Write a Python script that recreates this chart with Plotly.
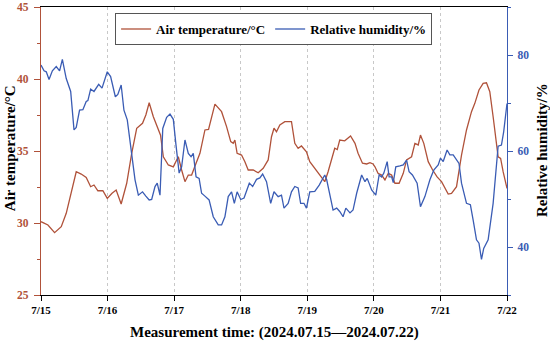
import plotly.graph_objects as go

# hours since 2024-07-15 00:00
temp_hours = [0, 2.5, 4.9, 7.3, 9.1, 10.9, 12.7, 14.5, 16.3, 17.9, 19.1, 20.5, 22.3, 23.9, 25.6, 27.1, 28.9,
              30.9, 32.7, 34.5, 36.6, 37.8, 39.0, 40.5, 42.3, 43.1, 44.1, 45.9, 47.7, 49.5, 50.7, 51.9, 53.1,
              54.3, 55.9, 57.3, 59.1, 60.4, 62.7, 65.1, 66.9, 68.4, 69.3, 69.9, 70.7, 72.3, 73.5, 74.7, 76.5,
              78.3, 80.1, 81.9, 83.1, 84.0, 84.9, 86.1, 87.9, 90.3, 91.5, 92.7, 93.9, 95.7, 96.9, 98.7, 100.5,
              102.3, 103.5, 104.8, 105.9, 106.8, 107.7, 109.5, 111.6, 113.2, 114.3, 115.9, 117.4, 118.6, 119.7,
              120.4, 121.5, 122.8, 124.0, 125.2, 126.4, 127.6, 129.1, 130.6, 131.8, 133.6, 134.8, 136.0, 136.8,
              138.0, 139.6, 141.2, 142.8, 144.4, 146.8, 148.0, 149.8, 151.6, 153.4, 155.2, 156.4, 157.9, 159.4,
              160.6, 161.8, 163.0, 164.2, 164.8, 165.7, 166.6, 168.0]
temp_values = [30.09, 29.86, 29.33, 29.74, 30.67, 32.06, 33.56, 33.4, 33.17, 32.52, 32.64, 32.24, 32.24, 31.71,
               32.06, 32.29, 31.32, 32.76, 34.84, 36.58, 36.92, 37.5, 38.35, 37.38, 36.58, 36.1, 34.6, 34.03,
               33.9, 34.6, 33.68, 32.87, 33.33, 33.33, 34.15, 34.84, 36.46, 36.5, 38.26, 37.73, 36.69, 35.65,
               35.53, 35.76, 34.84, 34.72, 34.26, 33.68, 33.68, 33.49, 33.8, 34.38, 35.99, 36.58, 36.34, 36.81,
               37.04, 37.04, 35.53, 35.19, 35.35, 34.95, 34.26, 33.8, 33.33, 32.87, 33.56, 34.49, 35.19, 35.1,
               35.76, 35.71, 36.04, 35.53, 34.84, 34.15, 34.1, 34.19, 34.1, 33.9, 33.45, 33.33, 32.99, 33.45,
               33.33, 32.76, 32.76, 33.45, 34.38, 34.6, 35.53, 35.42, 36.11, 35.53, 34.26, 33.68, 33.2, 32.87,
               32.01, 32.06, 32.52, 34.72, 36.46, 37.73, 38.31, 39.24, 39.7, 39.74, 39.12, 37.38, 35.76, 34.6,
               34.49, 33.56, 32.4]

hum_hours = [0, 1.1, 1.9, 2.9, 4.1, 5.5, 6.7, 7.7, 9.1, 10.7, 11.9, 12.7, 13.9, 15.1, 16.3, 16.9, 17.9, 19.1,
             20.8, 22.0, 23.9, 25.1, 26.8, 27.7, 28.9, 29.9, 31.1, 32.7, 33.9, 35.1, 36.6, 37.8, 39.0, 39.9,
             41.1, 41.9, 42.9, 43.9, 45.3, 46.5, 47.7, 48.6, 49.8, 50.7, 51.9, 53.1, 54.1, 54.9, 55.9, 57.0,
             57.9, 59.1, 60.6, 62.1, 63.9, 65.1, 66.3, 67.5, 68.7, 69.7, 70.7, 72.0, 73.2, 75.1, 76.3, 77.7,
             78.9, 79.9, 81.3, 82.8, 84.0, 85.5, 86.7, 87.6, 89.1, 90.3, 91.5, 92.7, 93.6, 94.8, 95.7, 96.9,
             98.7, 100.3, 101.5, 102.3, 103.0, 104.1, 105.3, 106.6, 107.7, 108.9, 109.9, 111.4, 112.5, 113.8,
             115.6, 116.8, 117.6, 119.2, 120.7, 121.9, 122.8, 123.6, 124.8, 125.5, 126.4, 127.0, 127.9, 129.4,
             130.6, 131.8, 132.7, 133.9, 135.6, 136.8, 138.4, 140.2, 141.6, 143.2, 144.0, 145.0, 146.4, 147.4,
             148.6, 150.7, 151.6, 153.4, 154.8, 155.8, 157.0, 157.9, 158.8, 159.6, 161.2, 163.0, 164.2, 164.8,
             166.0, 166.8, 168.0]
hum_values = [77.9, 76.7, 76.5, 74.9, 76.7, 77.6, 76.7, 79.1, 75.1, 72.4, 64.4, 64.9, 68.5, 68.6, 70.3, 70.5,
              72.9, 72.4, 73.9, 73.1, 76.5, 75.5, 71.3, 71.8, 73.75, 68.5, 66.5, 59.5, 54.0, 50.8, 51.5, 50.6,
              49.8, 49.9, 52.6, 53.3, 50.8, 64.7, 67.0, 67.7, 66.6, 61.6, 55.4, 56.7, 62.3, 59.5, 58.8, 59.5,
              54.6, 54.3, 51.2, 50.6, 49.8, 46.3, 44.6, 44.6, 46.3, 50.5, 51.5, 49.1, 51.5, 49.9, 50.2, 53.3,
              52.6, 54.1, 54.4, 55.2, 53.6, 49.1, 51.5, 50.5, 50.8, 48.1, 49.1, 51.5, 52.6, 52.3, 49.1, 49.1,
              48.1, 51.5, 51.6, 52.9, 54.3, 55.0, 54.0, 50.8, 47.7, 48.1, 47.4, 46.3, 48.1, 47.1, 47.7, 51.2,
              55.0, 53.6, 54.3, 51.9, 50.8, 55.0, 54.6, 55.4, 57.8, 54.6, 54.6, 53.4, 56.7, 56.9, 57.1, 58.1,
              55.7, 55.0, 53.3, 48.4, 50.5, 54.0, 56.0, 57.1, 58.5, 57.8, 60.2, 59.2, 59.2, 57.4, 53.3, 49.1,
              48.8, 45.6, 41.5, 40.8, 37.4, 39.7, 41.5, 49.1, 56.7, 61.0, 61.25, 64.0, 69.9]

day_ticks = [0, 24, 48, 72, 96, 120, 144, 168]
day_labels = ["7/15", "7/16", "7/17", "7/18", "7/19", "7/20", "7/21", "7/22"]

BROWN = "#b0523a"
BLUE = "#3a5cb4"
FONT = "Liberation Serif"

fig = go.Figure()
fig.add_trace(go.Scatter(x=temp_hours, y=temp_values, mode="lines", name="Air temperature/°C",
                         line=dict(color=BROWN, width=1.3), yaxis="y"))
fig.add_trace(go.Scatter(x=hum_hours, y=hum_values, mode="lines", name="Relative humidity/%",
                         line=dict(color=BLUE, width=1.3), yaxis="y2"))

fig.update_layout(
    width=550, height=344,
    margin=dict(l=41, r=43, t=7, b=49, autoexpand=False),
    plot_bgcolor="white", paper_bgcolor="white",
    font=dict(family=FONT, color="black"),
    showlegend=True,
    legend=dict(orientation="h", x=0.159, y=0.979, xanchor="left", yanchor="top",
                bordercolor="#555555", borderwidth=1, bgcolor="white",
                font=dict(family=FONT, size=13, color="black", weight="bold"),
                itemwidth=30),
    xaxis=dict(range=[0, 168], tickvals=day_ticks, ticktext=day_labels, automargin=False,
               showgrid=True, gridcolor="#c8c8c8", griddash="dot", gridwidth=1,
               showline=True, linecolor="black", linewidth=1, mirror=True,
               ticks="outside", ticklen=5, tickcolor="black",
               tickfont=dict(size=11, color="black", weight="bold"),
               zeroline=False),
    yaxis=dict(range=[25, 45], tickvals=[25, 30, 35, 40, 45], showgrid=False, zeroline=False,
               automargin=False,
               showline=True, linecolor=BROWN, linewidth=1.2,
               ticks="outside", ticklen=6, tickcolor=BROWN, ticklabelstandoff=3,
               minor=dict(ticks="outside", ticklen=3, dtick=2.5, tickcolor=BROWN),
               tickfont=dict(size=11.5, color=BROWN, weight="bold")),
    yaxis2=dict(range=[30, 90], tickvals=[40, 60, 80], overlaying="y", side="right",
                showgrid=False, zeroline=False, automargin=False,
                showline=True, linecolor=BLUE, linewidth=1.2,
                ticks="outside", ticklen=5, tickcolor=BLUE, ticklabelstandoff=2,
                minor=dict(ticks="outside", ticklen=3, dtick=10, tickcolor=BLUE),
                tickfont=dict(size=11.5, color=BLUE, weight="bold")),
    annotations=[
        dict(text="Air temperature/°C", xref="paper", yref="paper", x=-0.0665, y=0.51,
             xanchor="center", yanchor="middle", textangle=-90, showarrow=False,
             font=dict(family=FONT, size=15, color="black", weight="bold")),
        dict(text="Relative humidity/%", xref="paper", yref="paper", x=1.0751, y=0.5035,
             xanchor="center", yanchor="middle", textangle=-90, showarrow=False,
             font=dict(family=FONT, size=15, color="black", weight="bold")),
        dict(text="Measurement time: (2024.07.15—2024.07.22)", xref="paper", yref="paper",
             x=0.501, y=-0.13, xanchor="center", yanchor="middle", showarrow=False,
             font=dict(family=FONT, size=15, color="black", weight="bold")),
    ],
)

fig.write_html("out.html", config={"displayModeBar": False},
               post_script="document.body.style.margin='0';")
